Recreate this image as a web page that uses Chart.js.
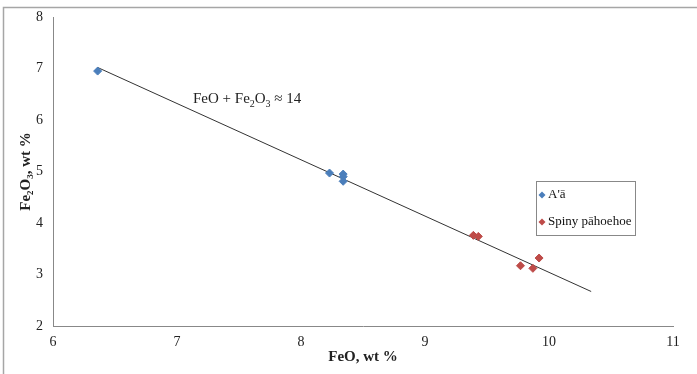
<!DOCTYPE html>
<html>
<head>
<meta charset="utf-8">
<script src="https://cdn.jsdelivr.net/npm/chart.js@4"></script>
<style>
  html, body { margin: 0; padding: 0; background: #fff; }
  #wrap { width: 697px; height: 374px; position: relative; }
</style>
</head>
<body>
<div id="wrap"><canvas id="chart" width="697" height="374"></canvas></div>
<script>
// values
const aaFeO = [6.36, 8.23, 8.34, 8.34, 8.34];
const aaFe2O3 = [6.95, 4.97, 4.95, 4.90, 4.81];
const spinyFeO = [9.39, 9.43, 9.77, 9.87, 9.92];
const spinyFe2O3 = [3.76, 3.74, 3.17, 3.12, 3.32];
const fitFeO = [6.36, 10.34];
const fitFe2O3 = [7.02, 2.67];
const seriesNames = ["A'ā", "Spiny pāhoehoe"];
const xTicks = [6, 7, 8, 9, 10, 11];
const yTicks = [2, 3, 4, 5, 6, 7, 8];

const serif = "'Liberation Serif', 'Times New Roman', serif";
const blue = "#4a7ebb";
const red = "#be4b48";

const toPoints = (xs, ys) => xs.map((x, i) => ({ x: x, y: ys[i] }));

// frame, equation label and legend box
const extras = {
  id: "extras",
  beforeDraw(chart) {
    const ctx = chart.ctx;
    ctx.save();
    ctx.fillStyle = "#fff";
    ctx.fillRect(0, 0, chart.width, chart.height);
    ctx.strokeStyle = "#a6a6a6";
    ctx.lineWidth = 1.5;
    ctx.beginPath();
    ctx.moveTo(3.5, chart.height);
    ctx.lineTo(3.5, 7.5);
    ctx.lineTo(chart.width, 7.5);
    ctx.stroke();
    ctx.restore();
  },
  afterDraw(chart) {
    const ctx = chart.ctx;
    ctx.save();
    // equation
    ctx.fillStyle = "#222";
    ctx.textBaseline = "alphabetic";
    let x = 193, y = 103;
    const part = (t, size, dy) => {
      ctx.font = size + "px " + serif;
      ctx.fillText(t, x, y + dy);
      x += ctx.measureText(t).width;
    };
    part("FeO + Fe", 15, 0);
    part("2", 10, 4);
    part("O", 15, 0);
    part("3", 10, 4);
    part(" ≈ 14", 15, 0);

    // legend
    ctx.strokeStyle = "#888";
    ctx.lineWidth = 1;
    ctx.strokeRect(536.5, 181.5, 99, 54);
    const items = [[seriesNames[0], blue, 195], [seriesNames[1], red, 222]];
    ctx.font = "13px " + serif;
    ctx.textBaseline = "middle";
    items.forEach(([label, col, iy]) => {
      ctx.fillStyle = col;
      ctx.beginPath();
      ctx.moveTo(542, iy - 3.5);
      ctx.lineTo(545.5, iy);
      ctx.lineTo(542, iy + 3.5);
      ctx.lineTo(538.5, iy);
      ctx.closePath();
      ctx.fill();
      ctx.fillStyle = "#111";
      ctx.fillText(label, 548, iy);
    });
    ctx.restore();
  }
};

new Chart(document.getElementById("chart"), {
  type: "scatter",
  data: {
    datasets: [
      {
        label: "fit",
        type: "line",
        data: toPoints(fitFeO, fitFe2O3),
        borderColor: "#333",
        borderWidth: 1,
        pointRadius: 0,
        fill: false,
        order: 2
      },
      {
        label: seriesNames[0],
        data: toPoints(aaFeO, aaFe2O3),
        backgroundColor: blue,
        borderColor: blue,
        pointStyle: "rectRot",
        pointRadius: 4,
        order: 1
      },
      {
        label: seriesNames[1],
        data: toPoints(spinyFeO, spinyFe2O3),
        backgroundColor: red,
        borderColor: red,
        pointStyle: "rectRot",
        pointRadius: 4,
        order: 1
      }
    ]
  },
  options: {
    responsive: false,
    animation: false,
    layout: { padding: { top: 17, right: 24, bottom: 4, left: 13 } },
    plugins: {
      legend: { display: false },
      tooltip: { enabled: false }
    },
    scales: {
      x: {
        type: "linear",
        min: 6,
        max: 11,
        afterBuildTicks: s => { s.ticks = xTicks.map(v => ({ value: v })); },
        afterFit: s => { s.height = 44; },
        grid: { display: false, drawTicks: true, tickLength: 4, tickColor: "#888" },
        border: { display: true, color: "#888", width: 1 },
        ticks: { color: "#222", font: { family: serif, size: 14 }, padding: 4, maxRotation: 0 },
        title: { display: true, text: "FeO, wt %", color: "#222", font: { family: serif, size: 15, weight: "bold" }, padding: { top: 3 } }
      },
      y: {
        type: "linear",
        min: 2,
        max: 8,
        afterBuildTicks: s => { s.ticks = yTicks.map(v => ({ value: v })); },
        afterFit: s => { s.width = 40; },
        grid: { display: false, drawTicks: true, tickLength: 4, tickColor: "#888" },
        border: { display: true, color: "#888", width: 1 },
        ticks: { color: "#222", font: { family: serif, size: 14 }, padding: 6 },
        title: { display: true, text: "Fe₂O₃, wt %", color: "#222", font: { family: serif, size: 15, weight: "bold" }, padding: { bottom: 2 } }
      }
    }
  },
  plugins: [extras]
});
</script>
</body>
</html>
